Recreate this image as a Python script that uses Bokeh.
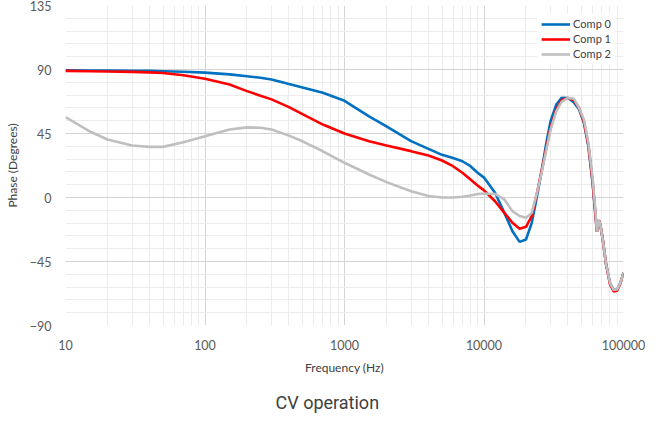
from bokeh.plotting import figure
from bokeh.models import (FixedTicker, NumeralTickFormatter, Legend, LegendItem, Title, Range1d)
from bokeh.embed import file_html
from bokeh.resources import INLINE

freq = [10, 15, 20, 30, 40, 50, 70, 100, 150, 200, 250, 300, 400, 500, 700, 1000,
        1500, 2000, 3000, 4000, 5000, 6000, 7000, 8000, 9000, 10000, 12000, 14000,
        16000, 18000, 20000, 22000, 24000, 26000, 28000, 30000, 33000, 36000, 40000,
        44000, 48000, 52000, 56000, 60000, 63000, 64500, 66000, 67000, 69000, 71000,
        75000, 80000, 85000, 90000, 95000, 100000]

comp0 = [89.5, 89.3, 89.2, 89.0, 89.0, 88.8, 88.4, 87.8, 86.6, 85.3, 84.2, 83.0, 79.8, 77.4, 73.6, 68.0,
         57.0, 50.0, 39.6, 34.2, 30.0, 27.7, 25.5, 22.0, 17.4, 14.0, 3.3, -10.8,
         -23.7, -31.2, -29.5, -17.8, 1.0, 19.7, 38.5, 53.7, 65.4, 70.1, 70.0,
         67.0, 62.0, 52.5, 36.0, 10.5, -13.0, -24.0, -18.0, -16.0, -22.0, -29.5,
         -47.0, -60.0, -65.0, -64.7, -60.0, -53.0]

comp1 = [89.0, 88.8, 88.6, 88.3, 88.0, 87.5, 86.0, 83.5, 79.5, 74.8, 71.5, 69.0, 63.5, 58.6, 51.3, 45.0,
         39.6, 36.6, 32.6, 29.5, 26.0, 22.0, 17.4, 12.7, 8.5, 5.0, -2.6, -10.8,
         -17.8, -22.0, -20.6, -13.0, 3.3, 19.7, 35.0, 49.0, 62.0, 68.4, 70.0,
         68.5, 63.0, 53.5, 37.0, 11.5, -12.5, -24.0, -18.0, -16.0, -22.0, -29.5,
         -47.0, -61.0, -66.0, -65.5, -60.5, -53.0]

comp2 = [56.5, 46.4, 40.8, 36.6, 35.6, 35.6, 38.9, 43.1, 47.8, 49.3, 49.0, 47.8, 43.5, 39.5, 32.5, 24.4,
         16.2, 10.8, 4.4, 1.0, 0.0, 0.0, 0.5, 1.4, 2.5, 2.8, 2.5, -1.4,
         -9.6, -13.0, -14.3, -10.8, 3.3, 18.5, 33.8, 47.8, 60.7, 67.3, 70.0,
         69.5, 63.0, 54.9, 38.5, 14.0, -10.0, -24.0, -18.0, -16.0, -22.0, -29.5,
         -47.0, -60.0, -65.0, -64.7, -60.0, -53.0]

series_names = ["Comp 0", "Comp 1", "Comp 2"]
series_colors = ["#0070C0", "#FF0000", "#BFBFBF"]

x_ticks = [10, 100, 1000, 10000, 100000]
y_ticks = [-90, -45, 0, 45, 90, 135]

FONT = "Lato"
TXT = "#595959"

p = figure(x_axis_type="log", output_backend="svg", toolbar_location=None,
           frame_width=558, frame_height=320,
           x_range=Range1d(10, 100000), y_range=Range1d(-90, 135),
           min_border_left=65, min_border_right=22, min_border_top=5, min_border_bottom=0)
p.outline_line_color = None
p.background_fill_color = "white"

x_minor = [m * d for d in [10, 100, 1000, 10000] for m in range(2, 10)]
y_minor = [v for v in range(-90, 136, 9) if v % 45 != 0]

p.xaxis.ticker = FixedTicker(ticks=x_ticks, minor_ticks=x_minor)
p.yaxis.ticker = FixedTicker(ticks=y_ticks, minor_ticks=y_minor)
p.xaxis.formatter = NumeralTickFormatter(format="0")

for ax in (p.xaxis, p.yaxis):
    ax.axis_line_color = None
    ax.major_tick_line_color = None
    ax.minor_tick_line_color = None
    ax.major_label_text_font = FONT
    ax.major_label_text_font_size = "12.5px"
    ax.major_label_text_color = TXT
    ax.axis_label_text_font = FONT
    ax.axis_label_text_font_size = "12px"
    ax.axis_label_text_font_style = "normal"
    ax.axis_label_text_color = "#404040"

p.xaxis.major_label_standoff = 8
p.yaxis.major_label_standoff = 8
p.xaxis.axis_label = "Frequency (Hz)"
p.yaxis.axis_label = "Phase (Degrees)"
p.xaxis.axis_label_standoff = 7
p.yaxis.axis_label_standoff = 7

for g in (p.xgrid, p.ygrid):
    g.grid_line_color = "#d4d4d4"
    g.minor_grid_line_color = "#ececec"

renderers = []
for vals, col in zip([comp0, comp1, comp2], series_colors):
    r = p.line(freq, vals, line_color=col, line_width=2.6)
    renderers.append(r)

legend = Legend(items=[LegendItem(label=n, renderers=[r]) for n, r in zip(series_names, renderers)],
                location="top_right")
legend.border_line_alpha = 0
legend.background_fill_color = "white"
legend.background_fill_alpha = 1
legend.label_text_font = FONT
legend.label_text_font_size = "11px"
legend.label_text_color = "#404040"
legend.glyph_width = 29
legend.glyph_height = 12
legend.label_height = 12
legend.label_standoff = 3
legend.spacing = 2
legend.padding = 4
legend.margin = 8
p.add_layout(legend, "center")

t = Title(text="CV operation", align="left", text_font="Roboto", text_font_size="18px",
          text_font_style="normal", text_color="#404040", standoff=25, offset=210)
p.add_layout(t, "below")

open("out.html", "w").write(file_html(p, INLINE))
